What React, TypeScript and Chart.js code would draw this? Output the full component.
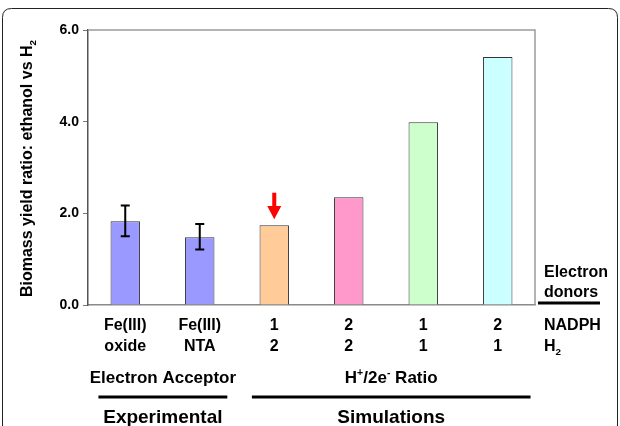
import { useEffect, useRef } from 'react';
import { Chart, registerables } from 'chart.js';

Chart.register(...registerables);

const FONT = '"Liberation Sans", Arial, sans-serif';

const categories: string[][] = [
  ['Fe(III)', 'oxide'],
  ['Fe(III)', 'NTA'],
  ['1', '2'],
  ['2', '2'],
  ['1', '1'],
  ['2', '1'],
];
const yieldRatio = [1.83, 1.48, 1.74, 2.35, 3.99, 5.41];
const errorLow: (number | null)[] = [1.5, 1.21, null, null, null, null];
const errorHigh: (number | null)[] = [2.17, 1.77, null, null, null, null];
const barColors = ['#9999FF', '#9999FF', '#FFCC99', '#FF99CC', '#CCFFCC', '#CCFFFF'];
const yTickValues = [0, 2, 4, 6];

type Seg = { t: string; m?: 'sub' | 'sup' };

const yTitle: Seg[] = [{ t: 'Biomass yield ratio: ethanol vs H' }, { t: '2', m: 'sub' }];
const donorTitle = ['Electron', 'donors'];
const donorRows: Seg[][] = [[{ t: 'NADPH' }], [{ t: 'H' }, { t: '2', m: 'sub' }]];
const groupTitles: Seg[][] = [
  [{ t: 'Electron Acceptor' }],
  [{ t: 'H' }, { t: '+', m: 'sup' }, { t: '/2e' }, { t: '-', m: 'sup' }, { t: ' Ratio' }],
];
const groupNames = ['Experimental', 'Simulations'];
const groupSpans = [
  [-0.36, 1.37],
  [1.7, 5.44],
];
const arrowIndex = 2;
const arrowTail = 2.45;
const arrowHeadBase = 2.16;
const arrowTip = 1.87;

function drawRich(
  ctx: CanvasRenderingContext2D,
  segs: Seg[],
  x: number,
  y: number,
  size: number,
  align: 'left' | 'center'
) {
  const sizes = segs.map((s) => (s.m ? size * 0.62 : size));
  const widths = segs.map((s, i) => {
    ctx.font = `bold ${sizes[i]}px ${FONT}`;
    return ctx.measureText(s.t).width;
  });
  const total = widths.reduce((a, b) => a + b, 0);
  let cx = align === 'center' ? x - total / 2 : x;
  ctx.textAlign = 'left';
  ctx.textBaseline = 'middle';
  segs.forEach((s, i) => {
    ctx.font = `bold ${sizes[i]}px ${FONT}`;
    const dy = s.m === 'sub' ? size * 0.3 : s.m === 'sup' ? -size * 0.28 : 0;
    ctx.fillText(s.t, cx, y + dy);
    cx += widths[i];
  });
}

const annotations = {
  id: 'annotations',
  beforeDraw(chart: any) {
    const ctx: CanvasRenderingContext2D = chart.ctx;
    ctx.save();
    ctx.strokeStyle = '#222';
    ctx.lineWidth = 1;
    const l = 2.5, t = 8.5, r = 617.5, b = 460, rad = 9;
    ctx.beginPath();
    ctx.moveTo(l, b);
    ctx.lineTo(l, t + rad);
    ctx.quadraticCurveTo(l, t, l + rad, t);
    ctx.lineTo(r - rad, t);
    ctx.quadraticCurveTo(r, t, r, t + rad);
    ctx.lineTo(r, b);
    ctx.stroke();
    ctx.restore();
  },
  afterDatasetsDraw(chart: any) {
    const ctx: CanvasRenderingContext2D = chart.ctx;
    const y = chart.scales.y;
    const meta = chart.getDatasetMeta(0);
    ctx.save();
    ctx.strokeStyle = '#000';
    ctx.lineWidth = 2;
    errorLow.forEach((lo, i) => {
      const hi = errorHigh[i];
      if (lo == null || hi == null) return;
      const x = meta.data[i].x;
      const y1 = y.getPixelForValue(hi);
      const y2 = y.getPixelForValue(lo);
      ctx.beginPath();
      ctx.moveTo(x, y1);
      ctx.lineTo(x, y2);
      ctx.moveTo(x - 4.5, y1);
      ctx.lineTo(x + 4.5, y1);
      ctx.moveTo(x - 4.5, y2);
      ctx.lineTo(x + 4.5, y2);
      ctx.stroke();
    });
    const ax = meta.data[arrowIndex].x;
    const yt = y.getPixelForValue(arrowTail);
    const yb = y.getPixelForValue(arrowHeadBase);
    const yp = y.getPixelForValue(arrowTip);
    ctx.fillStyle = '#FF0000';
    ctx.fillRect(ax - 2, yt, 4, yb - yt + 0.5);
    ctx.beginPath();
    ctx.moveTo(ax - 7, yb);
    ctx.lineTo(ax + 7, yb);
    ctx.lineTo(ax, yp);
    ctx.closePath();
    ctx.fill();
    ctx.restore();
  },
  afterDraw(chart: any) {
    const ctx: CanvasRenderingContext2D = chart.ctx;
    const { left, right, top, bottom } = chart.chartArea;
    const x = chart.scales.x;
    ctx.save();
    ctx.strokeStyle = '#9a9a9a';
    ctx.lineWidth = 1.5;
    ctx.beginPath();
    ctx.moveTo(left, top);
    ctx.lineTo(right, top);
    ctx.lineTo(right, bottom);
    ctx.stroke();

    ctx.fillStyle = '#000';
    ctx.save();
    ctx.translate(28, (top + bottom) / 2 + 1);
    ctx.rotate(-Math.PI / 2);
    drawRich(ctx, yTitle, 0, 0, 16, 'center');
    ctx.restore();

    categories.forEach((lines, i) => {
      const px = x.getPixelForValue(i);
      lines.forEach((line, j) => {
        drawRich(ctx, [{ t: line }], px, bottom + 21 + j * 21, 16, 'center');
      });
    });

    const dx = right + 9;
    donorTitle.forEach((line, j) => drawRich(ctx, [{ t: line }], dx, 273 + j * 20, 16, 'left'));
    ctx.fillRect(right + 3, bottom - 3.5, 62, 3);
    donorRows.forEach((segs, j) => drawRich(ctx, segs, dx, bottom + 21 + j * 21, 16, 'left'));

    groupSpans.forEach((span, g) => {
      const x1 = x.getPixelForValue(span[0]);
      const x2 = x.getPixelForValue(span[1]);
      const cx = (x1 + x2) / 2;
      drawRich(ctx, groupTitles[g], cx, 378, 17, 'center');
      ctx.fillRect(x1, 395.5, x2 - x1, 3);
      drawRich(ctx, [{ t: groupNames[g] }], cx, 418, 19, 'center');
    });
    ctx.restore();
  },
};

export default function App() {
  const ref = useRef<HTMLCanvasElement>(null);
  useEffect(() => {
    if (!ref.current) return;
    const chart = new Chart(ref.current, {
      type: 'bar',
      data: {
        labels: categories.map((c) => c.join(' ')),
        datasets: [
          {
            data: yieldRatio,
            backgroundColor: barColors,
            borderColor: '#333',
            borderWidth: 1,
            barPercentage: 0.395,
            categoryPercentage: 1,
          },
        ],
      },
      options: {
        animation: false,
        responsive: false,
        devicePixelRatio: 1,
        layout: { padding: { left: 0, right: 85, top: 30, bottom: 0 } },
        plugins: { legend: { display: false }, tooltip: { enabled: false } },
        scales: {
          x: {
            grid: { display: false },
            border: { color: '#8a8a8a', width: 1.5 },
            ticks: { display: false },
            afterFit: (s: any) => {
              s.height = 121;
            },
          },
          y: {
            min: 0,
            max: 6,
            afterBuildTicks: (s: any) => {
              s.ticks = yTickValues.map((v) => ({ value: v }));
            },
            grid: { drawOnChartArea: false, tickLength: 5, color: '#777' },
            border: { color: '#555', width: 1.5 },
            ticks: {
              padding: 4,
              color: '#000',
              font: { family: FONT, size: 14, weight: 'bold' },
              callback: (v: any) => Number(v).toFixed(1),
            },
            afterFit: (s: any) => {
              s.width = 88;
            },
          },
        },
      },
      plugins: [annotations],
    });
    return () => chart.destroy();
  }, []);
  return (
    <div style={{ position: 'fixed', left: 0, top: 0, width: 620, height: 426, background: '#fff' }}>
      <canvas ref={ref} width={620} height={426} />
    </div>
  );
}
